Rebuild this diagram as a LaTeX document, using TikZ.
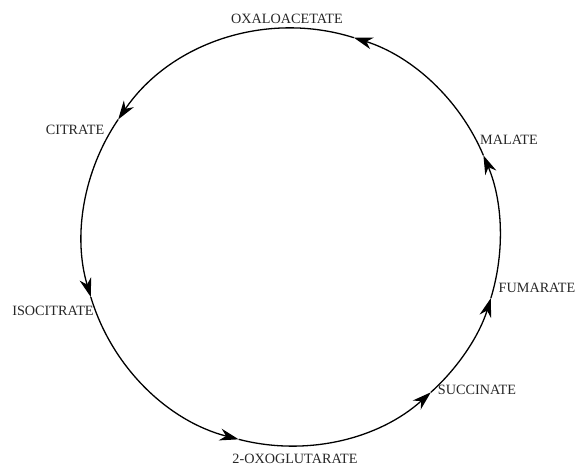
\documentclass[tikz,border=0pt]{standalone}
\usepackage{fontspec}
\setmainfont{Liberation Serif}
\usepackage{tikz}
\usetikzlibrary{arrows.meta}

\tikzset{
  cycarc/.style={line width=1.3pt, -{Stealth[length=19pt, width=12pt, inset=6pt]}},
  metab/.style={font=\fontsize{14.2}{16}\selectfont, text=black!85, inner sep=0pt}
}

\begin{document}
\begin{tikzpicture}[x=1pt, y=1pt]
  \useasboundingbox (0,0) rectangle (577,465);
  \coordinate (ctr) at (291,228);
  % points on the cycle where the arrow tips sit
  \path (ctr) ++(72.5:209) coordinate (tOxa);
  \path (ctr) ++(145.8:209) coordinate (tCit);
  \path (ctr) ++(196.7:209) coordinate (tIso);
  \path (ctr) ++(255.5:209) coordinate (tOxo);
  \path (ctr) ++(312:209) coordinate (tSuc);
  \path (ctr) ++(343:209) coordinate (tFum);
  \path (ctr) ++(23:209) coordinate (tMal);

  % metabolites
  \node[metab] (oxa) at (287,446) {OXALOACETATE};
  \node[metab] (cit) at (75,335)  {CITRATE};
  \node[metab] (iso) at (53,154)  {ISOCITRATE};
  \node[metab] (oxo) at (295,6.5) {2-OXOGLUTARATE};
  \node[metab] (suc) at (477,75)  {SUCCINATE};
  \node[metab] (fum) at (537,177) {FUMARATE};
  \node[metab] (mal) at (509,325) {MALATE};

  % the cycle
  \draw[cycarc] (tOxa) arc[start angle=72.5, end angle=145.8, radius=209];
  \draw[cycarc] (tCit) arc[start angle=145.8, end angle=196.7, radius=209];
  \draw[cycarc] (tIso) arc[start angle=196.7, end angle=255.5, radius=209];
  \draw[cycarc] (tOxo) arc[start angle=255.5, end angle=312, radius=209];
  \draw[cycarc] (tSuc) arc[start angle=312, end angle=343, radius=209];
  \draw[cycarc] (tFum) arc[start angle=343, end angle=383, radius=209];
  \draw[cycarc] (tMal) arc[start angle=23, end angle=72.5, radius=209];
\end{tikzpicture}
\end{document}
